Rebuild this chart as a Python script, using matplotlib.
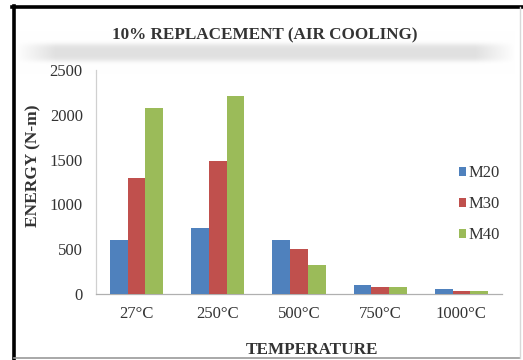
import numpy as np
import matplotlib
matplotlib.use("Agg")
import matplotlib.pyplot as plt
from matplotlib.lines import Line2D

categories = ["27°C", "250°C", "500°C", "750°C", "1000°C"]
series_names = ["M20", "M30", "M40"]
m20 = [600, 740, 600, 105, 60]
m30 = [1290, 1480, 500, 80, 35]
m40 = [2080, 2210, 320, 80, 30]
yticks = [0, 500, 1000, 1500, 2000, 2500]

colors = ["#4F81BD", "#C0504D", "#9BBB59"]
serif = ["Liberation Serif", "DejaVu Serif"]

W, H = 523, 360
fig = plt.figure(figsize=(W / 100, H / 100), dpi=100)
fig.patch.set_facecolor("white")

# soft gray band behind the top of the chart
bg = fig.add_axes([0, 0, 1, 1], zorder=-5)
bg.set_xlim(0, W)
bg.set_ylim(H, 0)
bg.axis("off")
yy = np.arange(H)[:, None]
xx = np.arange(W)[None, :]
band = np.exp(-((yy - 52) / 9.0) ** 4)
xfade = np.clip((xx - 15) / 40, 0, 1) * np.clip((515 - xx) / 40, 0, 1)
shade = 1 - 0.12 * band * xfade
img = np.dstack([shade, shade, shade])
bg.imshow(img, extent=[0, W, H, 0], aspect="auto", interpolation="bilinear")

# frame
bg.add_line(Line2D([13.5, 13.5], [5.5, H], color="black", lw=2.6))
bg.add_line(Line2D([12, W], [6.5, 6.5], color="black", lw=2.6))
bg.add_line(Line2D([13.5, 520], [358, 358], color="#9a9a9a", lw=1.2))
bg.add_line(Line2D([520, 520], [6.5, 358], color="#d8d8d8", lw=1.0))

ax = fig.add_axes([96 / W, 1 - 294 / H, (502 - 96) / W, (294 - 70) / H])
ax.set_facecolor("none")

x = np.arange(len(categories))
bw = 0.218
for i, (vals, name) in enumerate(zip([m20, m30, m40], series_names)):
    ax.bar(x + (i - 1) * bw, vals, bw, color=colors[i], label=name, zorder=3)

ax.set_xlim(-0.5, len(categories) - 0.5)
ax.set_ylim(0, 2500)
ax.set_yticks(yticks)
ax.set_xticks(x)
ax.set_xticklabels(categories)
ax.tick_params(length=0, labelsize=12, colors="#333333")
for lab in ax.get_xticklabels() + ax.get_yticklabels():
    lab.set_family(serif)
ax.tick_params(axis="y", pad=9.5)
ax.tick_params(axis="x", pad=9)

for s in ["top", "right"]:
    ax.spines[s].set_visible(False)
ax.spines["left"].set_color("#d0d0d0")
ax.spines["bottom"].set_color("#b0b0b0")
ax.spines["left"].set_linewidth(0.9)
ax.spines["bottom"].set_linewidth(0.9)

leg = ax.legend(loc="center left", bbox_to_anchor=(0.857, 0.40), frameon=False,
                prop={"family": serif, "size": 12}, handlelength=0.42,
                handleheight=0.42, handletextpad=0.15, labelspacing=0.9)
for t in leg.get_texts():
    t.set_color("#333333")

fig.text(265 / W, 1 - 35 / H, "10% REPLACEMENT (AIR COOLING)", ha="center", va="center",
         family=serif, weight="bold", size=12.3, color="#333333")
fig.text(33 / W, 1 - 166 / H, "ENERGY (N-m)", ha="center", va="center", rotation=90,
         family=serif, weight="bold", size=12.5, color="#333333")
fig.text(312 / W, 1 - 350 / H, "TEMPERATURE", ha="center", va="center",
         family=serif, weight="bold", size=12.3, color="#333333")

fig.savefig("out.png", dpi=100)
